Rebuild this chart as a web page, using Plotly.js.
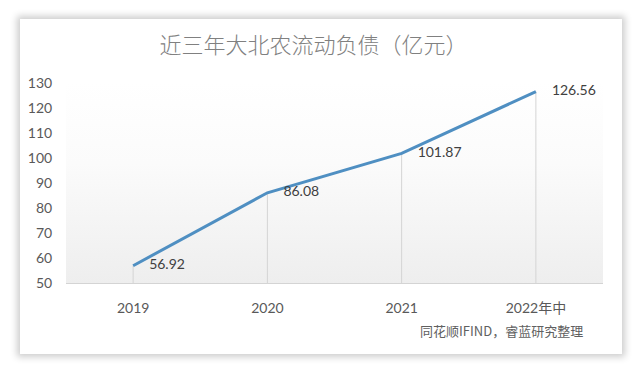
<!DOCTYPE html>
<html>
<head>
<meta charset="utf-8">
<script src="https://cdn.plot.ly/plotly-3.0.1.min.js"></script>
<style>
  html, body { margin: 0; padding: 0; background: #ffffff; }
  #wrap { position: relative; width: 640px; height: 376px; overflow: hidden; background: #ffffff; }
  #panel { position: absolute; left: 20px; top: 19px; width: 602px; height: 335px; background: #ffffff;
           box-shadow: 0 0 7px 3px rgba(0,0,0,0.2); }
  #plotbg { position: absolute; left: 66px; top: 83px; width: 537px; height: 200px;
            background: linear-gradient(to bottom, #ffffff 0%, #fbfbfb 40%, #eeeeee 100%); }
  #chart { position: absolute; left: 0; top: 0; width: 640px; height: 376px; }
</style>
</head>
<body>
<div id="wrap">
  <div id="panel"></div>
  <div id="plotbg"></div>
  <div id="chart"></div>
</div>
<script>
// ---- data ----
const categories = ["2019", "2020", "2021", "2022年中"];
const liabilities = [56.92, 86.08, 101.87, 126.56];
const labels = ["56.92", "86.08", "101.87", "126.56"];
const yTickVals = [50, 60, 70, 80, 90, 100, 110, 120, 130];
const titleText = "近三年大北农流动负债（亿元）";
const sourceText = "同花顺IFIND，睿蓝研究整理";

const axisBase = 50;
const fontFam = "Lato, 'Noto Sans CJK SC', sans-serif";

// drop lines from each point to the axis (via error bars)
const dropTrace = {
  x: categories,
  y: liabilities,
  type: "scatter",
  mode: "markers",
  marker: { size: 1, color: "rgba(0,0,0,0)" },
  error_y: {
    type: "data",
    symmetric: false,
    array: liabilities.map(() => 0),
    arrayminus: liabilities.map(v => v - axisBase),
    width: 0,
    thickness: 1,
    color: "#d4d4d4"
  },
  hoverinfo: "skip",
  showlegend: false
};

const lineTrace = {
  x: categories,
  y: liabilities,
  type: "scatter",
  mode: "lines+markers+text",
  line: { color: "#4f8fc2", width: 3 },
  marker: { size: 24, color: "rgba(0,0,0,0)" },
  text: labels,
  textposition: "middle right",
  textfont: { family: fontFam, size: 14, color: "#404040" },
  cliponaxis: false,
  showlegend: false
};

const layout = {
  width: 640,
  height: 376,
  margin: { l: 66, r: 37, t: 83, b: 93 },
  paper_bgcolor: "rgba(0,0,0,0)",
  plot_bgcolor: "rgba(0,0,0,0)",
  title: {
    text: titleText,
    font: { family: "'Noto Sans CJK SC', sans-serif", size: 22, weight: 300, color: "#808080" },
    x: 0.49, xref: "container", xanchor: "center",
    y: 0.88, yref: "container", yanchor: "middle"
  },
  xaxis: {
    type: "category",
    range: [-0.5, 3.5],
    showgrid: false,
    zeroline: false,
    showline: true,
    linecolor: "#d4d4d4",
    linewidth: 1,
    ticks: "outside",
    ticklen: 12,
    tickcolor: "rgba(0,0,0,0)",
    tickfont: { family: fontFam, size: 14, color: "#595959" }
  },
  yaxis: {
    range: [50, 130],
    tickvals: yTickVals,
    showgrid: false,
    zeroline: false,
    showline: false,
    ticks: "outside",
    ticklen: 10,
    tickcolor: "rgba(0,0,0,0)",
    tickfont: { family: fontFam, size: 14, color: "#595959" }
  },
  annotations: [{
    text: sourceText,
    xref: "paper", yref: "paper",
    x: 0.967, y: -0.235,
    xanchor: "right", yanchor: "middle",
    showarrow: false,
    font: { family: "'Noto Sans CJK SC', sans-serif", size: 13, color: "#606060" }
  }]
};

Plotly.newPlot("chart", [dropTrace, lineTrace], layout, { displayModeBar: false, staticPlot: true });
</script>
</body>
</html>
